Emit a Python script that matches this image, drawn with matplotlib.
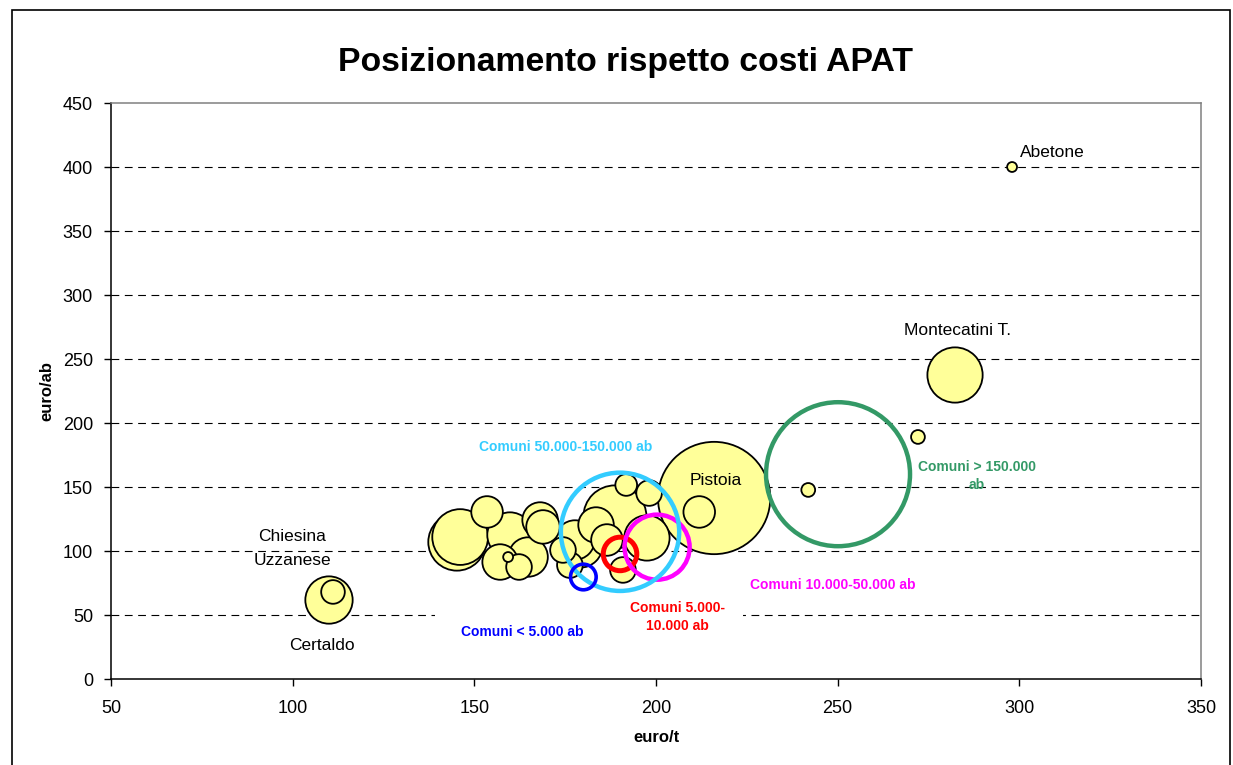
import matplotlib.pyplot as plt
from matplotlib.patches import Rectangle
import numpy as np

plt.rcParams['font.family'] = ['Liberation Sans', 'DejaVu Sans']

# singoli comuni: costo per tonnellata, costo per abitante, dimensione bolla
comuni_x = [146.1, 145.2, 153.5, 159.8, 157.1, 164.8, 162.3, 159.3, 168.1, 168.9,
            177.7, 174.4, 176.3, 188.7, 191.8, 198.1, 186.5, 197.5, 190.9,
            179.1, 183.5, 216.0, 211.9, 110.0, 111.1, 298.0, 282.3, 272.1, 241.9]
comuni_y = [110.9, 107.0, 130.5, 112.5, 91.4, 95.3, 87.5, 95.3, 124.2, 118.8,
            108.6, 100.8, 89.0, 126.6, 151.6, 145.3, 108.6, 110.2, 85.2,
            104.7, 120.3, 141.4, 130.5, 61.7, 68.0, 400.0, 237.5, 189.1, 147.7]
comuni_dim = [54000, 56800, 17300, 35700, 21900, 27000, 11400, 1700, 21900, 19500,
              27000, 11400, 11400, 69200, 8200, 11400, 17300, 35700, 11400,
              35700, 21900, 219000, 17300, 38900, 9700, 1700, 53000, 3300, 3300]

# medie per classe demografica
classi = ['Comuni > 150.000 ab', 'Comuni 5.000-10.000 ab', 'Comuni 10.000-50.000 ab',
          'Comuni 50.000-150.000 ab', 'Comuni < 5.000 ab']
classi_x = [250.1, 190.1, 200.3, 190.1, 180.0]
classi_y = [160.0, 97.7, 103.0, 115.0, 79.7]
classi_dim = [360000, 19500, 73600, 243000, 11400]
classi_col = ['#339966', '#FF0000', '#FF00FF', '#33CCFF', '#0000FF']
classi_lw = [3.2, 3.6, 3.2, 3.2, 2.6]

xticks = [50, 100, 150, 200, 250, 300, 350]
yticks = [0, 50, 100, 150, 200, 250, 300, 350, 400, 450]

DPI = 100
fig = plt.figure(figsize=(12.33, 7.65), dpi=DPI)
ax = fig.add_axes([111 / 1233, 1 - 679 / 765, 1090 / 1233, 576 / 765])

# cornice esterna dell'area grafico
fig.patches.append(Rectangle((12 / 1233, -0.05), 1218 / 1233, 1.05 - 10 / 765,
                             transform=fig.transFigure, fill=False,
                             edgecolor='black', linewidth=1.2))

ax.set_xlim(xticks[0], xticks[-1])
ax.set_ylim(yticks[0], yticks[-1])
ax.set_xticks(xticks)
ax.set_yticks(yticks)
ax.tick_params(axis='both', labelsize=13, length=5, width=1, direction='out')
ax.tick_params(axis='x', pad=10)
ax.tick_params(axis='y', pad=8)

for yv in yticks[1:-1]:
    ax.axhline(yv, color='black', linewidth=0.8, linestyle=(0, (7, 5)), zorder=1)
# riquadro bianco della didascalia che copre la griglia
ax.add_patch(Rectangle((139.2, 44), 84.8, 12, facecolor='white', edgecolor='none', zorder=1.5))

for side in ['left', 'bottom']:
    ax.spines[side].set_color('black')
    ax.spines[side].set_linewidth(1.1)
for side in ['top', 'right']:
    ax.spines[side].set_color('#808080')
    ax.spines[side].set_linewidth(1.1)

# scala delle bolle come in Excel: bolla massima = 25% dell'altezza del grafico
R_MAX = 72
dim_max = max(comuni_dim + classi_dim)


def bubble_area(d):
    r = R_MAX * np.sqrt(np.asarray(d, float) / dim_max)
    return (2 * r * 72 / DPI) ** 2


order = np.argsort(comuni_dim)[::-1]
ax.scatter(np.array(comuni_x)[order], np.array(comuni_y)[order],
           s=bubble_area(np.array(comuni_dim)[order]),
           facecolor='#FFFF99', edgecolor='black', linewidth=1.3, zorder=3)

for i in range(len(classi)):
    ax.scatter([classi_x[i]], [classi_y[i]], s=bubble_area([classi_dim[i]]),
               facecolor='none', edgecolor=classi_col[i], linewidth=classi_lw[i], zorder=4)

# etichette dei comuni
lab = dict(fontsize=12.5, ha='center', va='center', zorder=5)
ax.text(309.0, 411.7, 'Abetone', **lab)
ax.text(282.9, 271.9, 'Montecatini T.', **lab)
ax.text(216.5, 154.7, 'Pistoia', **lab)
ax.text(99.8, 111.0, 'Chiesina', **lab)
ax.text(99.8, 92.5, 'Uzzanese', **lab)
ax.text(108.1, 25.8, 'Certaldo', **lab)

# etichette delle classi
cl = dict(fontsize=10, fontweight='bold', ha='center', va='center', zorder=5)
ax.text(175.0, 181.3, 'Comuni 50.000-150.000 ab', color=classi_col[3], **cl)
ax.text(288.4, 158.6, 'Comuni > 150.000\nab', color=classi_col[0], linespacing=1.4, **cl)
ax.text(248.7, 73.4, 'Comuni 10.000-50.000 ab', color=classi_col[2], **cl)
ax.text(205.8, 48.4, 'Comuni 5.000-\n10.000 ab', color=classi_col[1], linespacing=1.4, **cl)
ax.text(163.1, 36.7, 'Comuni < 5.000 ab', color=classi_col[4], **cl)

fig.text(625.5 / 1233, 1 - 62 / 765, 'Posizionamento rispetto costi APAT',
         fontsize=24.3, fontweight='bold', ha='center', va='center')
fig.text(656 / 1233, 1 - 737 / 765, 'euro/t', fontsize=12, fontweight='bold',
         ha='center', va='center')
fig.text(47 / 1233, 1 - 391 / 765, 'euro/ab', fontsize=12, fontweight='bold',
         ha='center', va='center', rotation=90)

fig.savefig('out.png', dpi=DPI)
